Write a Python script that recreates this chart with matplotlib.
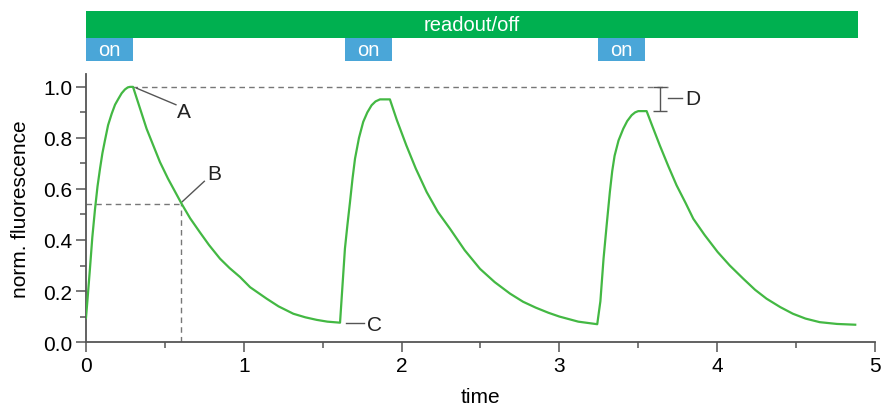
import matplotlib
matplotlib.use('Agg')
import matplotlib.pyplot as plt
from matplotlib.ticker import MultipleLocator, FormatStrFormatter

plt.rcParams['font.family'] = ['Liberation Sans', 'DejaVu Sans']

# fluorescence trace
time = [0.0, 0.01, 0.025, 0.04, 0.057, 0.073, 0.089, 0.104, 0.12, 0.14, 0.163,
        0.184, 0.205, 0.226, 0.247, 0.265, 0.279, 0.298,
        0.34, 0.384, 0.43, 0.469, 0.52, 0.606, 0.66, 0.722, 0.78, 0.849, 0.91,
        0.976, 1.04, 1.145, 1.22, 1.314, 1.39, 1.462, 1.53, 1.61,
        1.641, 1.657, 1.673, 1.689, 1.705, 1.73, 1.757, 1.783, 1.81, 1.835,
        1.863, 1.926,
        1.97, 2.03, 2.09, 2.159, 2.23, 2.307, 2.4, 2.497, 2.59, 2.687, 2.77,
        2.85, 2.93, 3.0, 3.12, 3.24,
        3.26, 3.28, 3.30, 3.32, 3.335, 3.35, 3.375, 3.405, 3.43, 3.458, 3.48,
        3.50, 3.553,
        3.59, 3.637, 3.69, 3.743, 3.8, 3.849, 3.92, 4.003, 4.08, 4.166, 4.24,
        4.313, 4.4, 4.48, 4.56, 4.65, 4.76, 4.875]
fluor = [0.095, 0.17, 0.287, 0.41, 0.52, 0.61, 0.68, 0.74, 0.79, 0.85, 0.895,
         0.93, 0.953, 0.975, 0.99, 0.998, 1.0, 1.0,
         0.92, 0.836, 0.765, 0.705, 0.64, 0.542, 0.485, 0.43, 0.38, 0.327, 0.29,
         0.255, 0.215, 0.17, 0.14, 0.111, 0.097, 0.087, 0.08, 0.076,
         0.366, 0.46, 0.548, 0.64, 0.719, 0.80, 0.863, 0.90, 0.928, 0.943,
         0.951, 0.951,
         0.87, 0.771, 0.68, 0.588, 0.51, 0.444, 0.36, 0.287, 0.235, 0.19, 0.158,
         0.135, 0.115, 0.10, 0.08, 0.07,
         0.16, 0.327, 0.46, 0.588, 0.67, 0.73, 0.79, 0.836, 0.866, 0.889, 0.90,
         0.905, 0.905,
         0.845, 0.77, 0.69, 0.614, 0.545, 0.483, 0.42, 0.353, 0.30, 0.248, 0.205,
         0.17, 0.137, 0.111, 0.092, 0.078, 0.071, 0.068]

readout_span = (0.0, 4.89)
on_starts = [0.0, 1.64, 3.245]
on_width = 0.30

peak_a = (0.29, 1.0)
point_b = (0.6, 0.54)
point_c = (1.61, 0.076)
d_x = 3.64
d_low, d_high = 0.905, 1.0

GREEN_LINE = '#43b843'
GREEN_BAR = '#00b050'
BLUE_BAR = '#4aa6d8'
GREY = '#555555'
DASH = (0, (4, 3))

fig = plt.figure(figsize=(8.82, 4.06), dpi=100)
ax = fig.add_axes([0.0975, 0.155, 0.8945, 0.66])
top = fig.add_axes([0.0975, 0.847, 0.8945, 0.123])

ax.plot(time, fluor, color=GREEN_LINE, lw=1.6, zorder=3)

# dashed guides
ax.plot([peak_a[0], d_x + 0.05], [1.0, 1.0], ls=DASH, color='#777777', lw=1)
ax.plot([0, point_b[0]], [point_b[1], point_b[1]], ls=DASH, color='#777777', lw=1)
ax.plot([point_b[0], point_b[0]], [0, point_b[1]], ls=DASH, color='#777777', lw=1)

# labels A-D
lab = dict(fontsize=15, va='center', ha='left', color='#222222')
ax.plot([peak_a[0] + 0.03, 0.57], [0.995, 0.93], color=GREY, lw=1)
ax.text(0.575, 0.905, 'A', **lab)
ax.plot([point_b[0] + 0.01, 0.75], [point_b[1] + 0.01, 0.63], color=GREY, lw=1)
ax.text(0.77, 0.66, 'B', **lab)
ax.plot([point_c[0] + 0.04, 1.76], [point_c[1], point_c[1]], color=GREY, lw=1)
ax.text(1.78, 0.07, 'C', **lab)
ax.errorbar([d_x], [(d_low + d_high) / 2], yerr=[(d_high - d_low) / 2],
            color=GREY, lw=1, capsize=5, capthick=1)
ax.plot([d_x + 0.05, d_x + 0.14], [0.955, 0.955], color=GREY, lw=1)
ax.text(d_x + 0.155, 0.955, 'D', **lab)

ax.set_xlim(0, 5)
ax.set_ylim(0, 1.05)
ax.xaxis.set_major_locator(MultipleLocator(1))
ax.xaxis.set_minor_locator(MultipleLocator(0.5))
ax.yaxis.set_major_locator(MultipleLocator(0.2))
ax.yaxis.set_minor_locator(MultipleLocator(0.1))
ax.yaxis.set_major_formatter(FormatStrFormatter('%.1f'))
for s in ['top', 'right']:
    ax.spines[s].set_visible(False)
for s in ['left', 'bottom']:
    ax.spines[s].set_color(GREY)
    ax.spines[s].set_linewidth(1.3)
ax.tick_params(which='major', length=7, width=1.1, color=GREY, labelsize=15, pad=3)
ax.tick_params(which='minor', length=4, width=1.1, color=GREY)
ax.set_xlabel('time', fontsize=15, labelpad=9)
ax.set_ylabel('norm. fluorescence', fontsize=15, labelpad=9)

# protocol bars
top.set_xlim(0, 5)
top.set_ylim(0, 1)
top.axis('off')
top.barh(0.73, readout_span[1] - readout_span[0], left=readout_span[0], height=0.54,
         color=GREEN_BAR)
top.text(sum(readout_span) / 2, 0.74, 'readout/off', color='white', fontsize=14.5,
         ha='center', va='center')
for s in on_starts:
    top.barh(0.23, on_width, left=s, height=0.46, color=BLUE_BAR)
    top.text(s + on_width / 2, 0.23, 'on', color='white', fontsize=14.5,
             ha='center', va='center')

fig.savefig('out.png', dpi=100)
